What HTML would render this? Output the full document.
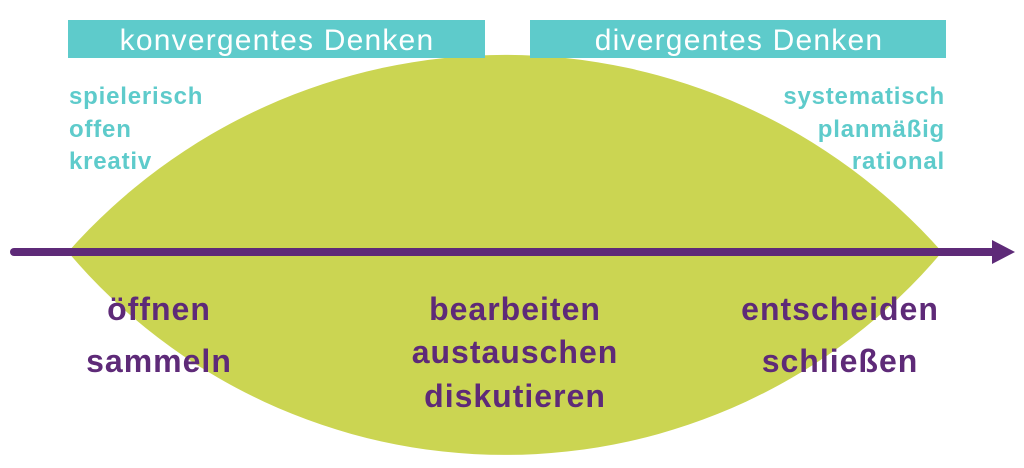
<!DOCTYPE html>
<html><head><style>
html,body{margin:0;padding:0;background:#fff;width:1024px;height:468px;overflow:hidden}
svg text{font-family:"Liberation Sans",sans-serif}
</style></head><body>
<svg width="1024" height="468" viewBox="0 0 1024 468">
<path d="M68 252 A583 583 0 0 1 942 252 A572 572 0 0 1 68 252 Z" fill="#cbd552"/>
<rect x="68" y="20" width="417" height="38" fill="#5ecbcb"/>
<rect x="530" y="20" width="416" height="38" fill="#5ecbcb"/>
<text x="277" y="50" text-anchor="middle" fill="#fff" font-size="30" letter-spacing="1.2">konvergentes Denken</text>
<text x="739" y="50" text-anchor="middle" fill="#fff" font-size="30" letter-spacing="1.2">divergentes Denken</text>
<g fill="#5ecbcb" font-size="24" font-weight="bold" letter-spacing="0.8">
<text x="69" y="104">spielerisch</text>
<text x="69" y="137">offen</text>
<text x="69" y="169">kreativ</text>
<text x="945" y="104" text-anchor="end">systematisch</text>
<text x="945" y="137" text-anchor="end">planmäßig</text>
<text x="945" y="169" text-anchor="end">rational</text>
</g>
<line x1="14" y1="252" x2="996" y2="252" stroke="#5e2a78" stroke-width="8" stroke-linecap="round"/>
<polygon points="992,240 1015,252 992,264" fill="#5e2a78"/>
<g fill="#5e2a78" font-size="32" font-weight="bold" text-anchor="middle" letter-spacing="1">
<text x="159" y="320">öffnen</text>
<text x="159" y="372">sammeln</text>
<text x="515" y="320">bearbeiten</text>
<text x="515" y="363">austauschen</text>
<text x="515" y="407">diskutieren</text>
<text x="840" y="320">entscheiden</text>
<text x="840" y="372">schließen</text>
</g>
</svg>
</body></html>
